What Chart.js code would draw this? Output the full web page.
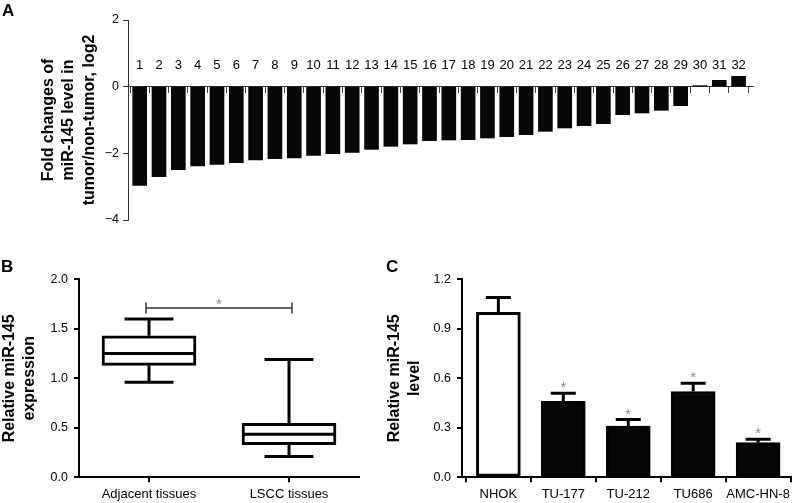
<!DOCTYPE html>
<html><head><meta charset="utf-8">
<script src="https://cdn.jsdelivr.net/npm/chart.js@4"></script>
<style>
html,body{margin:0;padding:0;background:#fff;}
#wrap{position:relative;width:794px;height:503px;overflow:hidden;background:#fff;font-family:"Liberation Sans",Arial,sans-serif;}
canvas{position:absolute;}
.lbl{position:absolute;font-weight:bold;font-size:17px;line-height:17px;color:#000;}
</style></head><body>
<div id="wrap">
<canvas id="chartA" width="794" height="250" style="left:0;top:0"></canvas>
<canvas id="chartB" width="390" height="248" style="left:0;top:255px"></canvas>
<canvas id="chartC" width="409" height="248" style="left:385px;top:255px"></canvas>
<div class="lbl" style="left:2px;top:2px">A</div>
<div class="lbl" style="left:1px;top:258px">B</div>
<div class="lbl" style="left:386px;top:258px">C</div>
</div>
<script>
// ---------- Panel A data ----------
const samplesA = ['1','2','3','4','5','6','7','8','9','10','11','12','13','14','15','16',
  '17','18','19','20','21','22','23','24','25','26','27','28','29','30','31','32'];
const foldChangeA = [-2.96,-2.70,-2.49,-2.38,-2.33,-2.28,-2.20,-2.16,-2.14,-2.06,-2.01,-1.97,
  -1.88,-1.79,-1.72,-1.62,-1.60,-1.59,-1.54,-1.50,-1.44,-1.34,-1.24,-1.17,-1.11,-0.84,
  -0.79,-0.71,-0.57,0.03,0.19,0.31];
const yTicksA = [-4,-2,0,2];
const titleA = ['Fold changes of','miR-145 level in','tumor/non-tumor, log2'];

// ---------- Panel B data ----------
const groupsB = ['Adjacent tissues','LSCC tissues'];
const minB    = [0.96, 0.21];
const q1B     = [1.13, 0.33];
const medianB = [1.25, 0.435];
const q3B     = [1.43, 0.545];
const maxB    = [1.60, 1.19];
const yTicksB = [0, 0.5, 1.0, 1.5, 2.0];
const bracketLevelB = 1.71;
const bracketMarkB = '*';
const titleB = ['Relative miR-145','expression'];

// ---------- Panel C data ----------
const cellLinesC = ['NHOK','TU-177','TU-212','TU686','AMC-HN-8'];
const levelC = [1.00, 0.46, 0.31, 0.52, 0.21];
const errorC = [0.09, 0.05, 0.04, 0.05, 0.02];
const signifC = ['', '*', '*', '*', '*'];
const yTicksC = [0, 0.3, 0.6, 0.9, 1.2];
const titleC = ['Relative miR-145','level'];

Chart.defaults.font.family = '"Liberation Sans", Arial, sans-serif';
Chart.defaults.color = '#000';
Chart.defaults.animation = false;
Chart.defaults.plugins.legend.display = false;
Chart.defaults.plugins.tooltip.enabled = false;

// ---------- Chart A ----------
new Chart(document.getElementById('chartA'), {
  type: 'bar',
  data: { datasets: [{
    data: foldChangeA.map((v, i) => ({x: i, y: v})),
    backgroundColor: '#070707', borderWidth: 0, barThickness: 14
  }]},
  options: {
    responsive: false,
    layout: { padding: {left: 0, top: 20, right: 41, bottom: 30} },
    scales: {
      x: {
        type: 'linear', offset: false, position: {y: 0}, min: -0.605, max: 31.745,
        afterBuildTicks: s => { s.ticks = samplesA.map((_, i) => ({value: i})); },
        grid: {drawOnChartArea: false, drawTicks: true, tickLength: 6, color: '#444', lineWidth: 1},
        border: {display: true, color: '#333', width: 1},
        ticks: {padding: -35, autoSkip: false, maxRotation: 0, font: {size: 13},
                callback: v => samplesA[v]}
      },
      y: {
        min: -4, max: 2,
        afterBuildTicks: s => { s.ticks = yTicksA.map(v => ({value: v})); },
        afterFit: s => { s.width = 128; },
        grid: {drawOnChartArea: false, tickLength: 5, color: '#333', lineWidth: 1},
        border: {color: '#333', width: 1},
        ticks: {padding: 4, font: {size: 12.5}, callback: v => String(v).replace('-', '\u2212')},
        title: {display: true, text: titleA, color: '#000',
                font: {size: 16, weight: 'bold', lineHeight: 1.28}, padding: {top: 38, bottom: 0}}
      }
    }
  }
});

// ---------- Chart B (box plot) ----------
const boxWhiskerPlugin = {
  id: 'boxWhisker',
  afterDatasetsDraw(chart) {
    const {ctx} = chart;
    const xs = chart.scales.x, ys = chart.scales.y;
    const meta = chart.getDatasetMeta(0);
    ctx.save();
    ctx.strokeStyle = '#000'; ctx.lineWidth = 3; ctx.lineCap = 'butt';
    groupsB.forEach((g, i) => {
      const bar = meta.data[i];
      const cx = bar.x, half = bar.width / 2, capHalf = bar.width * 0.26;
      const yMed = ys.getPixelForValue(medianB[i]);
      const yQ1 = ys.getPixelForValue(q1B[i]), yQ3 = ys.getPixelForValue(q3B[i]);
      const yMin = ys.getPixelForValue(minB[i]), yMax = ys.getPixelForValue(maxB[i]);
      ctx.beginPath();
      ctx.moveTo(cx - half, yMed); ctx.lineTo(cx + half, yMed);
      ctx.moveTo(cx, yQ3); ctx.lineTo(cx, yMax);
      ctx.moveTo(cx - capHalf, yMax); ctx.lineTo(cx + capHalf, yMax);
      ctx.moveTo(cx, yQ1); ctx.lineTo(cx, yMin);
      ctx.moveTo(cx - capHalf, yMin); ctx.lineTo(cx + capHalf, yMin);
      ctx.stroke();
    });
    // significance bracket
    const x0 = xs.getPixelForValue(0) - 3, x1 = xs.getPixelForValue(1) + 3;
    const yb = ys.getPixelForValue(bracketLevelB);
    ctx.strokeStyle = '#333'; ctx.lineWidth = 1.5;
    ctx.beginPath();
    ctx.moveTo(x0, yb); ctx.lineTo(x1, yb);
    ctx.moveTo(x0, yb - 5.5); ctx.lineTo(x0, yb + 5.5);
    ctx.moveTo(x1, yb - 5.5); ctx.lineTo(x1, yb + 5.5);
    ctx.stroke();
    ctx.fillStyle = '#888';
    ctx.font = '15px "Liberation Sans", Arial, sans-serif';
    ctx.textAlign = 'center'; ctx.textBaseline = 'alphabetic';
    ctx.fillText(bracketMarkB, (x0 + x1) / 2, yb + 0.5);
    ctx.restore();
  }
};

new Chart(document.getElementById('chartB'), {
  type: 'bar',
  data: { labels: groupsB, datasets: [{
    data: groupsB.map((_, i) => [q1B[i], q3B[i]]),
    backgroundColor: '#fff', borderColor: '#000', borderWidth: 3, borderSkipped: false,
    barThickness: 94
  }]},
  options: {
    responsive: false,
    layout: { padding: {left: 0, top: 24.3, right: 31, bottom: 0} },
    scales: {
      x: {
        afterFit: s => { s.height = 25.7; },
        grid: {drawOnChartArea: false, offset: false, tickLength: 5, color: '#000', lineWidth: 2},
        border: {color: '#000', width: 2},
        ticks: {padding: 4, font: {size: 13}, maxRotation: 0}
      },
      y: {
        min: 0, max: 2,
        afterBuildTicks: s => { s.ticks = yTicksB.map(v => ({value: v})); },
        afterFit: s => { s.width = 79; },
        grid: {drawOnChartArea: false, tickLength: 5, color: '#000', lineWidth: 2},
        border: {color: '#000', width: 2},
        ticks: {padding: 6, font: {size: 12.5}, callback: v => v.toFixed(1)},
        title: {display: true, text: titleB, color: '#000',
                font: {size: 16, weight: 'bold', lineHeight: 1.25}, padding: {top: 0, bottom: 0}}
      }
    }
  },
  plugins: [boxWhiskerPlugin]
});

// ---------- Chart C ----------
const errorBarPlugin = {
  id: 'errorBars',
  afterDatasetsDraw(chart) {
    const {ctx} = chart;
    const ys = chart.scales.y;
    const meta = chart.getDatasetMeta(0);
    ctx.save();
    ctx.strokeStyle = '#000'; ctx.lineWidth = 3;
    cellLinesC.forEach((c, i) => {
      const bar = meta.data[i];
      const cx = bar.x;
      const yTop = ys.getPixelForValue(levelC[i]);
      const yErr = ys.getPixelForValue(levelC[i] + errorC[i]);
      ctx.beginPath();
      ctx.moveTo(cx, yTop); ctx.lineTo(cx, yErr);
      ctx.moveTo(cx - 12.5, yErr); ctx.lineTo(cx + 12.5, yErr);
      ctx.stroke();
      if (signifC[i]) {
        ctx.fillStyle = '#888';
        ctx.font = '15px "Liberation Sans", Arial, sans-serif';
        ctx.textAlign = 'center'; ctx.textBaseline = 'alphabetic';
        ctx.fillText(signifC[i], cx, yErr - 1);
      }
    });
    ctx.restore();
  }
};

new Chart(document.getElementById('chartC'), {
  type: 'bar',
  data: { datasets: [{
    data: levelC.map((v, i) => ({x: i, y: v})),
    backgroundColor: levelC.map((v, i) => i === 0 ? '#fff' : '#060606'),
    borderColor: '#000', borderWidth: 3, borderSkipped: false,
    barThickness: 44
  }]},
  options: {
    responsive: false,
    layout: { padding: {left: 0, top: 24.3, right: 1, bottom: 0} },
    scales: {
      x: {
        type: 'linear', offset: false, min: -0.56, max: 4.51,
        afterBuildTicks: s => { s.ticks = cellLinesC.map((_, i) => ({value: i})); },
        afterFit: s => { s.height = 25.7; },
        grid: {drawOnChartArea: false, tickLength: 5, color: '#000', lineWidth: 2},
        border: {color: '#000', width: 2},
        ticks: {padding: 4, font: {size: 13}, autoSkip: false, maxRotation: 0,
                callback: v => cellLinesC[v]}
      },
      y: {
        min: 0, max: 1.2,
        afterBuildTicks: s => { s.ticks = yTicksC.map(v => ({value: v})); },
        afterFit: s => { s.width = 77; },
        grid: {drawOnChartArea: false, tickLength: 5, color: '#000', lineWidth: 2},
        border: {color: '#000', width: 2},
        ticks: {padding: 6, font: {size: 12.5}, callback: v => v.toFixed(1)},
        title: {display: true, text: titleC, color: '#000',
                font: {size: 16, weight: 'bold', lineHeight: 1.25}, padding: {top: 0, bottom: 0}}
      }
    }
  },
  plugins: [errorBarPlugin]
});
</script>
</body></html>
